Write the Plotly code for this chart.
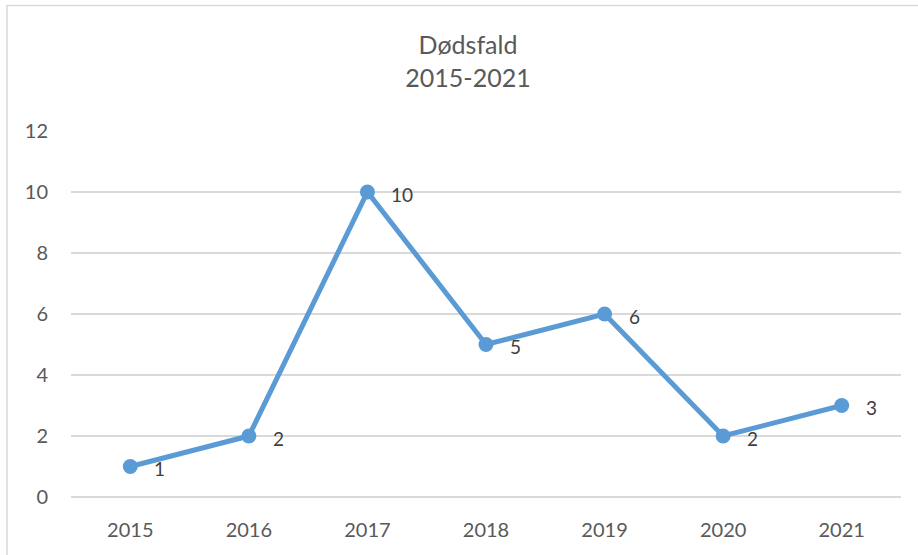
import plotly.graph_objects as go

years = ["2015", "2016", "2017", "2018", "2019", "2020", "2021"]
deaths = [1, 2, 10, 5, 6, 2, 3]
y_ticks = [0, 2, 4, 6, 8, 10, 12]
title_lines = ["Dødsfald", "2015-2021"]

LINE = "#5B9BD5"
GRID = "#D9D9D9"
TXT = "#595959"
FONT = "Lato"

fig = go.Figure()
fig.add_trace(go.Scatter(
    x=years, y=deaths, mode="lines+markers",
    line=dict(color=LINE, width=5),
    marker=dict(color=LINE, size=15),
    hoverinfo="x+y", showlegend=False,
))

for i, yv in enumerate(deaths):
    fig.add_annotation(
        x=i, y=yv, text=str(yv), showarrow=False,
        xanchor="left", yanchor="middle", xshift=22, yshift=-2,
        font=dict(family=FONT, size=19, color="#404040"),
    )

# outer chart border (right and bottom edges fall outside the image)
fig.add_shape(type="rect", xref="paper", yref="paper",
              x0=(7 - 71) / 830, x1=(930 - 71) / 830,
              y0=(497 - 570) / 366, y1=(497 - 5.5) / 366,
              line=dict(color=GRID, width=1.5), fillcolor="rgba(0,0,0,0)", layer="below")

fig.update_layout(
    width=918, height=555,
    margin=dict(l=71, r=17, t=131, b=58, autoexpand=False),
    paper_bgcolor="white", plot_bgcolor="white",
    font=dict(family=FONT, color=TXT),
    title=dict(text="<br>".join(title_lines), x=468 / 918, xanchor="center",
               xref="container", yref="container", y=1 - 54 / 555, yanchor="top",
               font=dict(family=FONT, size=25, color=TXT)),
    xaxis=dict(type="category", range=[-0.5, len(years) - 0.5], autorange=False,
               showgrid=False, showline=False, zeroline=False,
               tickfont=dict(family=FONT, size=20, color=TXT), ticks="",
               ticklabelstandoff=19),
    yaxis=dict(range=[0, 12], tickvals=y_ticks, showgrid=True, gridcolor=GRID,
               gridwidth=1.5, zeroline=True, zerolinecolor=GRID, zerolinewidth=1.5,
               showline=False, ticks="",
               tickfont=dict(family=FONT, size=20, color=TXT), ticklabelstandoff=22),
)

fig.write_html("out.html", config={"displayModeBar": False},
               post_script="document.body.style.margin='0';")
